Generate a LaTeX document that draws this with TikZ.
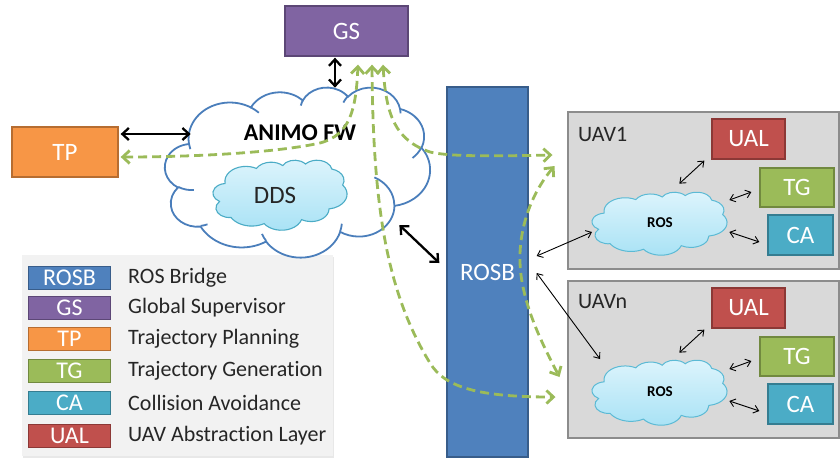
\documentclass[tikz,border=0pt]{standalone}
\usepackage{fontspec}
\setmainfont{Carlito}[Ligatures={TeX,NoCommon}]
\usetikzlibrary{arrows.meta,calc,shadows}
\definecolor{gsc}{HTML}{8064A2}\definecolor{gsd}{HTML}{5C4776}
\definecolor{tpc}{HTML}{F79646}\definecolor{tpd}{HTML}{B66D31}
\definecolor{rbc}{HTML}{4F81BD}\definecolor{rbd}{HTML}{385D8A}
\definecolor{ualc}{HTML}{C0504D}\definecolor{uald}{HTML}{8C3836}
\definecolor{tgc}{HTML}{9BBB59}\definecolor{tgd}{HTML}{71893F}
\definecolor{cac}{HTML}{4BACC6}\definecolor{cad}{HTML}{357D91}
\definecolor{uavc}{HTML}{D9D9D9}\definecolor{uavd}{HTML}{8C8C8C}
\definecolor{cloudline}{HTML}{4A7EBB}
\definecolor{rosline}{HTML}{5BBAD5}
\definecolor{rostop}{HTML}{DDF4FC}\definecolor{rosbot}{HTML}{A8E2F5}
\definecolor{gline}{HTML}{9BBB59}
\definecolor{legbg}{HTML}{F2F2F2}
% parametric angles for the arcs of an Office-style cloud
\newcommand\pptang[5]{%
  \pgfmathsetmacro\tmpts{atan2(#2*sin(#4),#3*cos(#4))}%
  \pgfmathsetmacro\tmpte{atan2(#2*sin(#4+#5),#3*cos(#4+#5))}%
  \pgfmathsetmacro\tmpd{mod(\tmpte-\tmpts+720,360)}%
  \expandafter\xdef\csname pp#1s\endcsname{\tmpts}%
  \expandafter\xdef\csname pp#1d\endcsname{\tmpd}}
\pptang{A}{67.53}{91.90}{-190.4875}{123.7805}
\pptang{B}{53.33}{72.67}{-144.1024}{89.9452}
\pptang{C}{43.65}{59.45}{-145.8079}{99.7230}
\pptang{D}{48.57}{65.95}{-130.9861}{117.2417}
\pptang{E}{53.33}{72.73}{-78.7089}{109.0269}
\pptang{F}{67.75}{92.20}{-46.2673}{130.2690}
\pptang{G}{57.85}{78.67}{0.6250}{114.0333}
\pptang{H}{67.52}{92.15}{22.4516}{115.1726}
\pptang{I}{77.20}{105.43}{66.2426}{75.7110}
\pptang{J}{43.60}{59.18}{-274.9421}{146.7356}
\pptang{K}{43.45}{59.45}{-246.8285}{152.5189}
\pptang{L}{43.45}{59.45}{86.7420}{26.4295}
\pptang{M}{43.60}{59.18}{73.6105}{11.4475}
\pptang{N}{67.52}{92.15}{137.6242}{14.0811}
\pptang{O}{67.52}{92.15}{6.4533}{15.9984}
\pptang{P}{57.85}{78.67}{-70.2924}{70.9174}
\pptang{Q}{53.33}{72.73}{30.3180}{27.7515}
\pptang{R}{48.57}{65.95}{-13.7443}{14.8589}
\pptang{S}{48.57}{65.95}{-149.1815}{18.1954}
\pptang{T}{43.65}{59.45}{-163.4943}{17.6864}
\pptang{U}{67.53}{91.90}{-66.7070}{12.3194}
\pptang{V}{67.53}{91.90}{157.6544}{11.8582}
\def\cloudout{(39.00,143.70)
  arc[x radius=67.53,y radius=91.90,start angle=\ppAs,delta angle=\ppAd]
  arc[x radius=53.33,y radius=72.67,start angle=\ppBs,delta angle=\ppBd]
  arc[x radius=43.65,y radius=59.45,start angle=\ppCs,delta angle=\ppCd]
  arc[x radius=48.57,y radius=65.95,start angle=\ppDs,delta angle=\ppDd]
  arc[x radius=53.33,y radius=72.73,start angle=\ppEs,delta angle=\ppEd]
  arc[x radius=67.75,y radius=92.20,start angle=\ppFs,delta angle=\ppFd]
  arc[x radius=57.85,y radius=78.67,start angle=\ppGs,delta angle=\ppGd]
  arc[x radius=67.52,y radius=92.15,start angle=\ppHs,delta angle=\ppHd]
  arc[x radius=77.20,y radius=105.43,start angle=\ppIs,delta angle=\ppId]
  arc[x radius=43.60,y radius=59.18,start angle=\ppJs,delta angle=\ppJd]
  arc[x radius=43.45,y radius=59.45,start angle=\ppKs,delta angle=\ppKd] -- cycle}
\def\cloudin{(46.93,261.77) arc[x radius=43.45,y radius=59.45,start angle=\ppLs,delta angle=\ppLd]
  (69.28,348.99) arc[x radius=43.60,y radius=59.18,start angle=\ppMs,delta angle=\ppMd]
  (164.78,390.90) arc[x radius=67.52,y radius=92.15,start angle=\ppNs,delta angle=\ppNd]
  (288.27,347.51) arc[x radius=67.52,y radius=92.15,start angle=\ppOs,delta angle=\ppOd]
  (341.29,229.54) arc[x radius=57.85,y radius=78.67,start angle=\ppPs,delta angle=\ppPd]
  (417.98,153.54) arc[x radius=53.33,y radius=72.73,start angle=\ppQs,delta angle=\ppQd]
  (383.24,54.26) arc[x radius=48.57,y radius=65.95,start angle=\ppRs,delta angle=\ppRd]
  (290.78,39.52) arc[x radius=48.57,y radius=65.95,start angle=\ppSs,delta angle=\ppSd]
  (221.41,47.20) arc[x radius=43.65,y radius=59.45,start angle=\ppTs,delta angle=\ppTd]
  (140.00,51.92) arc[x radius=67.53,y radius=91.90,start angle=\ppUs,delta angle=\ppUd]
  (41.27,157.89) arc[x radius=67.53,y radius=91.90,start angle=\ppVs,delta angle=\ppVd]}
\begin{document}
\begin{tikzpicture}[x=1pt,y=-1pt,
  box/.style={draw, line width=1.3pt, inner sep=0pt, text=white,
    font=\fontsize{25}{25}\selectfont},
  uavbox/.style={draw=uavd, fill=uavc, line width=2pt, inner sep=0pt,
    minimum width=271pt, minimum height=157pt},
  cloudarea/.style={inner sep=0pt, outer sep=0pt},
  garrow/.style={draw=gline, line width=2.8pt, dash pattern=on 9pt off 5pt,
    {Straight Barb[length=7pt,width=13pt]}-{Straight Barb[length=7pt,width=13pt]}},
  thickarrow/.style={draw=black, line width=2.3pt,
    {Straight Barb[length=6.5pt,width=12pt]}-{Straight Barb[length=6.5pt,width=12pt]}},
  thinarrow/.style={draw=black, line width=0.9pt,
    {Straight Barb[length=5pt,width=8pt]}-{Straight Barb[length=5pt,width=8pt]}},
  legbox/.style={box, line width=1pt, minimum width=82pt, minimum height=23pt,
    font=\fontsize{24}{24}\selectfont},
  legtext/.style={anchor=west, inner sep=0pt, text=black!85,
    font=\fontsize{22}{22}\selectfont},
  uavlabel/.style={anchor=west, inner sep=0pt, text=black!85,
    font=\fontsize{22}{22}\selectfont}
]
\useasboundingbox (0,0) rectangle (840,459);

% legend background
\node[fill=legbg, minimum width=311pt, minimum height=201pt, inner sep=0pt,
  drop shadow={opacity=0.18, shadow xshift=1pt, shadow yshift=-2pt}] (legend) at (177.5,355.5) {};
\node[legbox, fill=rbc, draw=rbd] (lrosb) at (69.5,277.5) {ROSB};
\node[legbox, fill=gsc, draw=gsd] (lgs) at (69.5,307.5) {GS};
\node[legbox, fill=tpc, draw=tpd] (ltp) at (69.5,339) {TP};
\node[legbox, fill=tgc, draw=tgd] (ltg) at (69.5,371) {TG};
\node[legbox, fill=cac, draw=cad] (lca) at (69.5,403) {CA};
\node[legbox, fill=ualc, draw=uald] (lual) at (69.5,435.5) {UAL};
\node[legtext] (trosb) at (128,277.5) {ROS Bridge};
\node[legtext] (tgs) at (128,307.5) {Global Supervisor};
\node[legtext] (ttp) at (128,339) {Trajectory Planning};
\node[legtext] (ttg) at (128,371) {Trajectory Generation};
\node[legtext] (tca) at (128,403) {Collision Avoidance};
\node[legtext] (tual) at (128,435.5) {UAV Abstraction Layer};

% main boxes
\node[box, fill=gsc, draw=gsd, minimum width=123pt, minimum height=50pt] (gs) at (346.5,31) {GS};
\node[box, fill=tpc, draw=tpd, minimum width=106pt, minimum height=50pt] (tp) at (65,152) {TP};
\node[box, fill=rbc, draw=rbd, minimum width=81pt, minimum height=370pt] (rosb) at (487.5,272) {ROSB};

% ANIMO cloud
\node[cloudarea, minimum width=265pt, minimum height=170pt] (animo) at (297.5,172) {};
\begin{scope}[shift={(animo.north west)}, x=0.61343pt, y=-0.393519pt]
  \draw[cloudline, line width=1.8pt, fill=white] \cloudout;
  \draw[cloudline, line width=1.8pt] \cloudin;
\end{scope}
\node[inner sep=0pt, font=\fontsize{24}{24}\selectfont\bfseries] (animot) at (300,133) {ANIMO FW};
\node[cloudarea, minimum width=134pt, minimum height=70pt] (dds) at (280,195) {};
\begin{scope}[shift={(dds.north west)}, x=0.310185pt, y=-0.162037pt]
  \draw[cac, line width=1.1pt, top color=rostop, bottom color=rosbot] \cloudout;
\end{scope}
\node[inner sep=0pt, font=\fontsize{25}{25}\selectfont, text=black!85] (ddst) at (275,195) {DDS};

% UAV1
\node[uavbox] (uav1) at (703,190.5) {};
\node[uavlabel] (uav1t) at (578,134) {UAV1};
\node[box, fill=ualc, draw=uald, minimum width=73pt, minimum height=40pt] (ual1) at (748.5,139) {UAL};
\node[box, fill=tgc, draw=tgd, minimum width=74pt, minimum height=39pt] (tg1) at (797,187.5) {TG};
\node[box, fill=cac, draw=cad, minimum width=65pt, minimum height=40pt] (ca1) at (800.5,235) {CA};
\node[cloudarea, minimum width=135pt, minimum height=63pt] (ros1) at (659.5,223.5) {};
\begin{scope}[shift={(ros1.north west)}, x=0.3125pt, y=-0.145833pt]
  \draw[rosline, line width=1pt, top color=rostop, bottom color=rosbot] \cloudout;
\end{scope}
\node[inner sep=0pt, font=\fontsize{15}{15}\selectfont\bfseries] (ros1t) at (660,223) {ROS};

% UAVn
\node[uavbox] (uavn) at (703,359) {};
\node[uavlabel] (uavnt) at (578,302) {UAVn};
\node[box, fill=ualc, draw=uald, minimum width=73pt, minimum height=40pt] (ual2) at (748.5,308) {UAL};
\node[box, fill=tgc, draw=tgd, minimum width=74pt, minimum height=39pt] (tg2) at (797,356.5) {TG};
\node[box, fill=cac, draw=cad, minimum width=65pt, minimum height=40pt] (ca2) at (800.5,404) {CA};
\node[cloudarea, minimum width=135pt, minimum height=65pt] (ros2) at (659.5,392.5) {};
\begin{scope}[shift={(ros2.north west)}, x=0.3125pt, y=-0.150463pt]
  \draw[rosline, line width=1pt, top color=rostop, bottom color=rosbot] \cloudout;
\end{scope}
\node[inner sep=0pt, font=\fontsize{15}{15}\selectfont\bfseries] (ros2t) at (660,392) {ROS};

% thick black arrows
\draw[thickarrow] ($(gs.south)+(-11.5,1)$) -- ($(gs.south)+(-11.5,31)$);
\draw[thickarrow] ($(tp.east)+(2,-18)$) -- ($(tp.east)+(72,-18)$);
\draw[thickarrow] ($(rosb.west)+(-47,-47)$) -- ($(rosb.west)+(-7,-9)$);

% thin arrows
\draw[thinarrow] ($(rosb.east)+(8,-16)$) -- ($(ros1.west)+(0,8.5)$);
\draw[thinarrow] ($(rosb.east)+(8,1)$) -- ($(ros2.west)+(8,-33.5)$);
\draw[thinarrow] ($(ual1.south west)+(-32,24)$) -- ($(ual1.south west)+(-7,1)$);
\draw[thinarrow] ($(tg1.west)+(-30,12.5)$) -- ($(tg1.west)+(-8,4.5)$);
\draw[thinarrow] ($(ca1.west)+(-38,-3)$) -- ($(ca1.west)+(-8,7)$);
\draw[thinarrow] ($(ual2.south west)+(-32,24)$) -- ($(ual2.south west)+(-7,1)$);
\draw[thinarrow] ($(tg2.west)+(-30,12.5)$) -- ($(tg2.west)+(-8,4.5)$);
\draw[thinarrow] ($(ca2.west)+(-38,-3)$) -- ($(ca2.west)+(-8,7)$);

% green dashed arrows
\draw[garrow] ($(tp.east)+(2,5)$) .. controls (200,157) and (280,152) .. (320,143)
  .. controls (350,135) and (356,110) .. ($(gs.south)+(11.5,8)$);
\draw[garrow] ($(gs.south)+(36.5,8)$) .. controls (386,115) and (395,140) .. (430,152)
  .. controls (450,157) and (500,156) .. ($(uav1.west)+(-14,-35.5)$);
\draw[garrow] ($(gs.south)+(25.5,8)$) .. controls (373,200) and (385,290) .. (430,363)
  .. controls (445,388) and (480,397) .. ($(uavn.west)+(-11,38)$);
\draw[garrow] ($(uav1.west)+(-12,-24.5)$) .. controls (530,195) and (519,230) .. (520,262)
  .. controls (521,300) and (540,340) .. ($(uavn.west)+(-7,18)$);
\end{tikzpicture}
\end{document}
